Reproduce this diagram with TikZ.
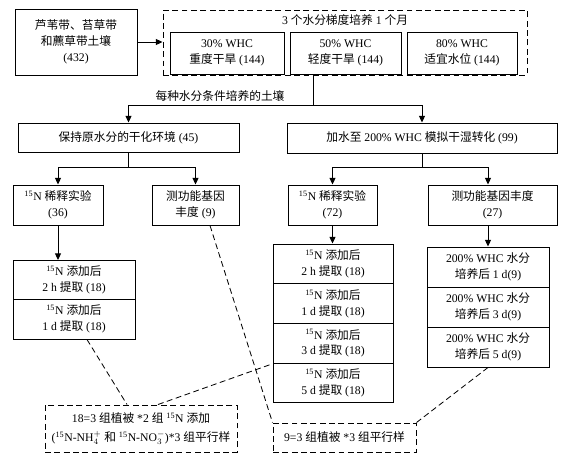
\documentclass[tikz,border=0pt]{standalone}
\usepackage{fontspec}
\setmainfont{Liberation Serif}
\newfontfamily\zh{Noto Sans CJK SC}
\usetikzlibrary{arrows.meta,positioning,calc}
\tikzset{arr/.style={-{Triangle[length=2mm,width=1.8mm]},draw=black,line width=0.85pt},ln/.style={draw=black,line width=0.85pt}}

\begin{document}
\begin{tikzpicture}[x=0.03cm,y=-0.03cm,
bx/.style 2 args={draw,line width=0.85pt,minimum width=#1*0.03cm,minimum height=#2*0.03cm,inner sep=0pt,align=center,font=\fontsize{10}{13.5}\selectfont},
dbx/.style 2 args={bx={#1}{#2},dash pattern=on 5pt off 3pt},
txt/.style={font=\fontsize{10}{13.5}\selectfont,inner sep=0pt},
link/.style={dash pattern=on 5pt off 3pt,line width=0.7pt}]
\useasboundingbox (0,0) rectangle (572,462);
% top row
\node[bx={122}{66}] (src) at (76,42) {{\zh 芦苇带、苔草带}\\{\zh 和藨草带土壤}\\(432)};
\node[dbx={364}{65}] (grp) at (345,42.5) {};
\node[txt] (grpt) at (345,20.5) {3 {\zh 个水分梯度培养} 1 {\zh 个月}};
\node[bx={114}{42}] (d30) at (227,53) {30\% WHC\\{\zh 重度干旱} (144)};
\node[bx={111}{42}] (d50) at (345.5,53) {50\% WHC\\{\zh 轻度干旱} (144)};
\node[bx={110}{42}] (d80) at (462,53) {80\% WHC\\{\zh 适宜水位} (144)};
\draw[arr] (src.east) -- (src.east -| grp.west);
% split by water condition
\coordinate (j0) at (313,105);
\draw[ln] (d50.south -| j0) -- (j0);
\node[txt] (lab) at (220,96) {{\zh 每种水分条件培养的土壤}};
\node[bx={221}{29}] (keep) at (128.5,137.5) {{\zh 保持原水分的干化环境} (45)};
\node[bx={270}{30}] (wet) at (422,138) {{\zh 加水至} 200\% WHC {\zh 模拟干湿转化} (99)};
\draw[arr] (j0) -| (keep.north);
\draw[arr] (j0) -| (wet.north);
% third row
\node[bx={90}{40}] (dil1) at (58,205) {\textsuperscript{15}N {\zh 稀释实验}\\(36)};
\node[bx={87}{40}] (gene1) at (195.5,205) {{\zh 测功能基因}\\{\zh 丰度} (9)};
\node[bx={89}{40}] (dil2) at (332.5,205) {\textsuperscript{15}N {\zh 稀释实验}\\(72)};
\node[bx={129}{40}] (gene2) at (492.5,205) {{\zh 测功能基因丰度}\\(27)};
\coordinate (j1) at (128.5,167);
\coordinate (j2) at (422,167);
\draw[ln] (keep.south) -- (j1);
\draw[arr] (j1) -| (dil1.north);
\draw[arr] (j1) -| (gene1.north);
\draw[ln] (wet.south) -- (j2);
\draw[arr] (j2) -| (dil2.north);
% stacks
\node[bx={122}{39}] (s1) at (74,280) {\textsuperscript{15}N {\zh 添加后}\\2 h {\zh 提取} (18)};
\node[bx={122}{40}] (s2) at (74,319) {\textsuperscript{15}N {\zh 添加后}\\1 d {\zh 提取} (18)};
\node[bx={120}{39.75}] (r1) at (333,263.9) {\textsuperscript{15}N {\zh 添加后}\\2 h {\zh 提取} (18)};
\node[bx={120}{39.75}] (r2) at (333,303.6) {\textsuperscript{15}N {\zh 添加后}\\1 d {\zh 提取} (18)};
\node[bx={120}{39.75}] (r3) at (333,343.4) {\textsuperscript{15}N {\zh 添加后}\\3 d {\zh 提取} (18)};
\node[bx={120}{39.75}] (r4) at (333,383.1) {\textsuperscript{15}N {\zh 添加后}\\5 d {\zh 提取} (18)};
\node[bx={122}{40}] (g1) at (488,267) {200\% WHC {\zh 水分}\\{\zh 培养后} 1 d(9)};
\node[bx={122}{40}] (g2) at (488,307) {200\% WHC {\zh 水分}\\{\zh 培养后} 3 d(9)};
\node[bx={122}{40}] (g3) at (488,347) {200\% WHC {\zh 水分}\\{\zh 培养后} 5 d(9)};
\draw[arr] (j2) -| (g1.north |- gene2.north);
\draw[arr] (dil1.south) -- (dil1.south |- s1.north);
\draw[arr] (dil2.south) -- (dil2.south |- r1.north);
\draw[arr] (gene2.south -| g1.north) -- (g1.north);
% notes
\node[dbx={192}{47},font=\fontsize{10}{16}\selectfont] (n1) at (141,428.5) {18=3 {\zh 组植被} *2 {\zh 组} \textsuperscript{15}N {\zh 添加}\\(\textsuperscript{15}N-NH$_4^+$ {\zh 和} \textsuperscript{15}N-NO$_3^-$)*3 {\zh 组平行样}};
\node[dbx={143}{29}] (n2) at (344.5,437.5) {9=3 {\zh 组植被} *3 {\zh 组平行样}};
\draw[link] ($(s2.south)+(13,0)$) -- ($(n1.north)+(-14,0)$);
\draw[link] ($(n1.north)+(17,0)$) -- (r3.south west);
\draw[link] ($(gene1.south)+(14.5,0)$) -- (n2.north west);
\draw[link] (g3.south) -- (n2.north east);
\end{tikzpicture}
\end{document}
